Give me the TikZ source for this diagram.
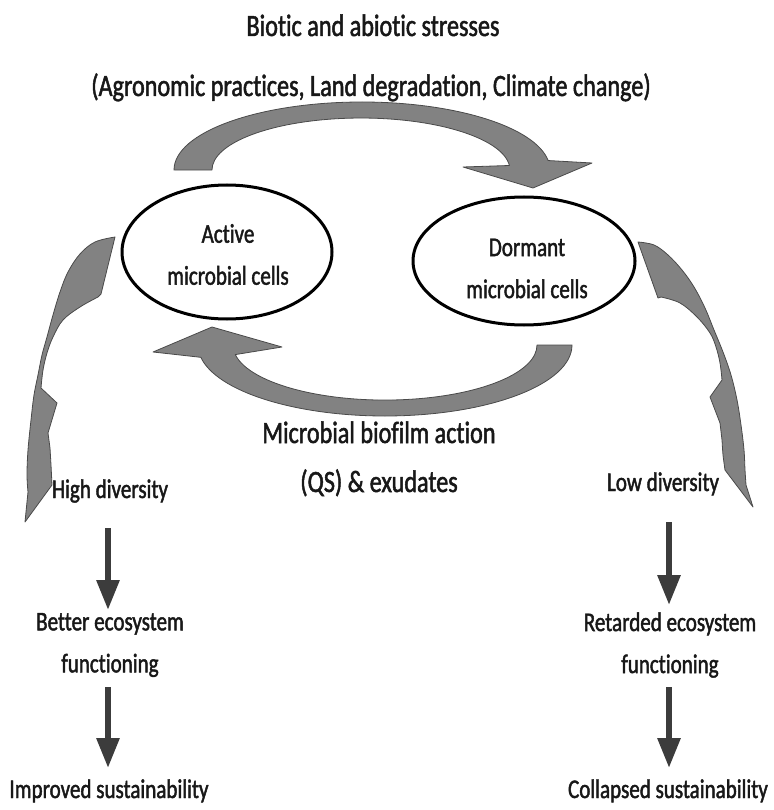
\documentclass[tikz,border=0pt]{standalone}
\usepackage{fontspec}
\setmainfont{Carlito}[FakeStretch=0.78,FakeBold=1.6,Ligatures=NoCommon]
\usetikzlibrary{arrows.meta,shapes.geometric}
\definecolor{arrowgray}{HTML}{828282}
\definecolor{edgegray}{HTML}{4a4a4a}
\definecolor{darkarrow}{HTML}{3c3c3c}
\definecolor{txt}{HTML}{181818}
\newcommand{\diagsmall}{\fontsize{27}{42}\selectfont}
\newcommand{\diaglarge}{\fontsize{31}{40}\selectfont}
\begin{document}
\begin{tikzpicture}[x=1pt,y=-1pt,
  bigarrow/.style={fill=arrowgray, draw=edgegray, line width=0.8pt, line join=round},
  cell/.style={ellipse, draw=black, line width=3pt, inner sep=0pt},
  lbl/.style={text=txt, inner sep=0pt, font=\diagsmall},
  biglbl/.style={text=txt, inner sep=0pt, font=\diaglarge},
  downarr/.style={draw=darkarrow, line width=6pt, -{Triangle[length=30pt,width=22pt]}}]
\useasboundingbox (0,0) rectangle (773,810);

% top texts
\node[biglbl, anchor=base] (stress) at (373,36) {Biotic and abiotic stresses};
\node[biglbl, anchor=base] (causes) at (371,96) {(Agronomic practices, Land degradation, Climate change)};

% cells
\node[cell, minimum width=210pt, minimum height=134pt] (active) at (227,252) {};
\node[cell, minimum width=222pt, minimum height=128pt] (dormant) at (524,261) {};
\node[lbl, align=center] (activetxt) at (228,254.5) {Active\\microbial cells};
\node[lbl, align=center] (dormanttxt) at (527,268.5) {Dormant\\microbial cells};

% top curved arrow (active -> dormant)
\path[bigarrow] (174,170) arc[start angle=180, end angle=352, x radius=188, y radius=68]
  -- (592,163) -- (533,188) -- (463,167) -- (509.4,165.5)
  arc[start angle=355, end angle=180, x radius=149, y radius=52] -- cycle;

% bottom curved arrow (dormant -> active)
\path[bigarrow] (572,345) arc[start angle=0, end angle=170, x radius=187, y radius=71]
  -- (153,352) -- (212,327) -- (282,347) -- (235.3,354.6)
  arc[start angle=170, end angle=0, x radius=152, y radius=55] -- cycle;

% middle texts
\node[biglbl, anchor=base] (biofilm) at (379,443) {Microbial biofilm action};
\node[biglbl, anchor=base] (qs) at (379,492) {(QS) \& exudates};

% left side arrow
\path[bigarrow] plot[smooth, tension=0.6] coordinates {(115,237) (95,242) (80,254) (68,272) (60,292) (53,315) (47,337) (42,355) (38,375) (34,395) (31,420) (28,450) (27,475) (28,492)}
  -- (25,522) -- (52,485)
  -- plot[smooth] coordinates {(52,485) (51,465) (50,448)}
  -- (48,433) -- (57,403) -- (41,388)
  -- plot[smooth, tension=0.6] coordinates {(41,388) (43,370) (47,353) (53,337) (63,320) (80,307) (98,297)}
  -- (101,294) -- cycle;

% right side arrow
\path[bigarrow] plot[smooth, tension=0.6] coordinates {(638,242) (654,245) (668,255) (682,270) (694,287) (705,308) (714,330) (723,352) (731,375) (737,400) (741,425) (744,450) (745,470) (746,485)}
  -- (753,507) -- (725,470)
  -- plot[smooth] coordinates {(725,470) (723,455) (722,440)}
  -- (720,423) -- (710,397) -- (722,380)
  -- plot[smooth, tension=0.6] coordinates {(722,380) (720,363) (716,347) (710,333) (697,317) (680,303) (661,297)}
  -- (658,298) -- cycle;

% left column
\node[lbl, anchor=base] (high) at (110,498) {High diversity};
\node[lbl, align=center] (better) at (110,645) {Better ecosystem\\functioning};
\node[lbl, anchor=base] (improved) at (109,798) {Improved sustainability};

% right column
\node[lbl, anchor=base] (low) at (663,491) {Low diversity};
\node[lbl, align=center] (retarded) at (670,645) {Retarded ecosystem\\functioning};
\node[lbl, anchor=base] (collapsed) at (668,798) {Collapsed sustainability};

% straight arrows
\coordinate (la1) at (108,528); \coordinate (lb1) at (108,610);
\coordinate (la2) at (108,687); \coordinate (lb2) at (108,768);
\coordinate (ra1) at (669,522); \coordinate (rb1) at (669,605);
\coordinate (ra2) at (669,687); \coordinate (rb2) at (669,768);
\draw[downarr] (la1) -- (lb1);
\draw[downarr] (la2) -- (lb2);
\draw[downarr] (ra1) -- (rb1);
\draw[downarr] (ra2) -- (rb2);
\end{tikzpicture}
\end{document}
